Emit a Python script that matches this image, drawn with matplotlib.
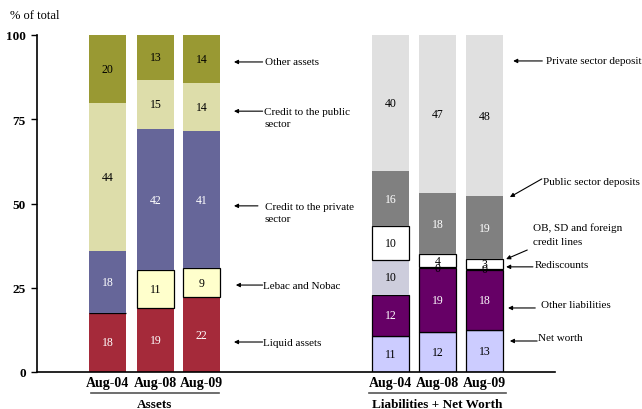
import matplotlib
matplotlib.use('Agg')
import matplotlib.pyplot as plt
import numpy as np

plt.rcParams['font.family'] = ['Liberation Serif', 'DejaVu Serif']

dates = ['Aug-04', 'Aug-08', 'Aug-09']

# assets, % of total (bottom to top)
liquid_assets = [17.6, 19.0, 22.2]
lebac_nobac = [0.0, 11.2, 8.6]
credit_private = [18.4, 41.9, 40.7]
credit_public = [43.8, 14.6, 14.4]
other_assets = [20.2, 13.3, 14.1]

# liabilities + net worth, % of total (bottom to top)
net_worth = [10.8, 11.8, 12.6]
other_liabilities = [12.1, 19.1, 17.8]
rediscounts = [10.3, 0.2, 0.2]
ob_sd_credit = [10.1, 3.9, 2.9]
public_deposits = [16.3, 18.1, 18.6]
private_deposits = [40.4, 46.9, 47.9]

assets = [
    ('Liquid assets', liquid_assets, '#A52A3A', 'white', 'none'),
    ('Lebac and Nobac', lebac_nobac, '#FFFFCC', 'black', 'black'),
    ('Credit to the private\nsector', credit_private, '#666699', 'white', 'none'),
    ('Credit to the public\nsector', credit_public, '#DDDDAA', 'black', 'none'),
    ('Other assets', other_assets, '#999933', 'black', 'none'),
]
liabilities = [
    ('Net worth', net_worth, '#CCCCFF', 'black', 'black'),
    ('Other liabilities', other_liabilities, '#660066', 'white', 'black'),
    ('Rediscounts', rediscounts, '#CDCDDC', 'black', 'none'),
    ('OB, SD and foreign\ncredit lines', ob_sd_credit, 'white', 'black', 'black'),
    ('Public sector deposits', public_deposits, '#808080', 'white', 'none'),
    ('Private sector deposits', private_deposits, '#E0E0E0', 'black', 'none'),
]

x_assets = np.array([1.5, 2.52, 3.5])
x_liab = np.array([7.52, 8.52, 9.52])
width = 0.79

fig = plt.figure(figsize=(6.42, 4.10), dpi=100)
ax = fig.add_axes([37 / 642, 1 - 373 / 410, (555 - 37) / 642, (373 - 36) / 410])


def stack(xs, groups):
    bottom = np.zeros(len(xs))
    for name, vals, color, tcolor, edge in groups:
        vals = np.array(vals)
        ax.bar(xs, vals, width, bottom=bottom, color=color,
               edgecolor=edge, linewidth=0.9 if edge != 'none' else 0)
        for x, b, v in zip(xs, bottom, vals):
            if v > 0:
                ax.text(x, b + v / 2, '%.0f' % v, ha='center', va='center',
                        fontsize=8.5, color=tcolor)
        bottom += vals


stack(x_assets, assets)
stack(x_liab, liabilities)

ax.set_xlim(0, 11.02)
ax.set_ylim(0, 100)
ax.set_yticks([0, 25, 50, 75, 100])
ax.set_xticks(list(x_assets) + list(x_liab))
ax.set_xticklabels(dates + dates, fontweight='bold', fontsize=10)
for lab in ax.get_yticklabels():
    lab.set_fontweight('bold')
    lab.set_fontsize(9.5)
ax.tick_params(axis='x', length=0, pad=3)
ax.tick_params(axis='y', length=4, width=1, pad=4, direction='out')
ax.spines['top'].set_visible(False)
ax.spines['right'].set_visible(False)
ax.spines['left'].set_linewidth(1.2)
ax.spines['bottom'].set_linewidth(1.2)

fig.text(10 / 642, 1 - 16 / 410, '% of total', fontsize=9, va='center')

# group labels under the date labels
ax.plot([1.15, 3.87], [-6.3, -6.3], color='#555555', lw=1.2, clip_on=False)
ax.plot([7.06, 9.98], [-6.3, -6.3], color='#555555', lw=1.2, clip_on=False)
ax.text(2.51, -9.4, 'Assets', ha='center', va='center', fontweight='bold', fontsize=9.5)
ax.text(8.52, -9.4, 'Liabilities + Net Worth', ha='center', va='center',
        fontweight='bold', fontsize=9.5)

# callouts: (text, arrow head, arrow tail, text position, line spacing)
callouts = [
    ('Other assets', (4.19, 92.0), (4.8, 92.0), (4.85, 92.0), 1.5),
    ('Credit to the public\nsector', (4.19, 77.4), (4.8, 77.4), (4.83, 75.5), 1.5),
    ('Credit to the private\nsector', (4.19, 49.3), (4.7, 49.3), (4.85, 47.3), 1.5),
    ('Lebac and Nobac', (4.23, 25.8), (4.8, 25.8), (4.8, 25.8), 1.5),
    ('Liquid assets', (4.19, 8.9), (4.8, 8.9), (4.8, 8.9), 1.5),
    ('Private sector deposits', (10.13, 92.3), (10.75, 92.3), (10.83, 92.3), 1.5),
    ('Public sector deposits', (10.06, 51.9), (10.74, 57.3), (10.76, 56.5), 1.5),
    ('OB, SD and foreign\ncredit lines', (9.98, 33.5), (10.43, 36.2), (10.55, 40.8), 1.7),
    ('Rediscounts', (9.98, 31.2), (10.55, 31.2), (10.58, 31.8), 1.5),
    ('Other liabilities', (10.02, 19.0), (10.6, 19.0), (10.72, 20.0), 1.5),
    ('Net worth', (10.06, 9.2), (10.64, 9.2), (10.65, 10.2), 1.5),
]
for label, head, tail, pos, spacing in callouts:
    ax.annotate('', xy=head, xytext=tail, annotation_clip=False,
                arrowprops=dict(arrowstyle='-|>', lw=0.8, color='black',
                                mutation_scale=6, shrinkA=0, shrinkB=0))
    ax.text(pos[0], pos[1], label, ha='left', va='center', fontsize=8,
            linespacing=spacing, clip_on=False)

fig.savefig('out.png', dpi=100)
